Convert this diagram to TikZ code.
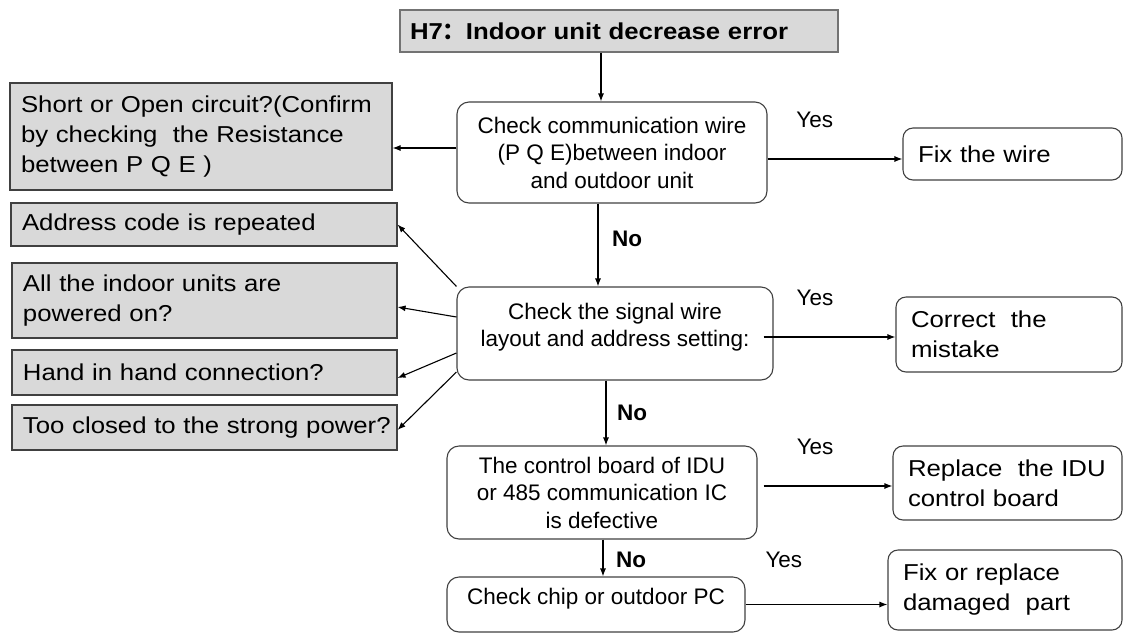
\documentclass[tikz,border=0pt]{standalone}
\usepackage{fontspec}
\setmainfont{Liberation Sans}
\newfontfamily\widefont{Liberation Sans}[FakeStretch=1.12]
\newfontfamily\cjkfont{Noto Sans CJK SC}
\usetikzlibrary{arrows.meta}

\begin{document}
\begin{tikzpicture}
    [x=1pt, y=-1pt,
    >={Latex[length=8pt,width=6pt]},
    line width=1.1pt,
    titlebox/.style={draw=black!55, fill=black!15, inner xsep=10pt, inner ysep=0pt, align=left, font=\widefont\bfseries\fontsize{23}{28}\selectfont},
    graybox/.style={draw=black!75, fill=black!15, inner xsep=11pt, inner ysep=0pt, align=left, font=\widefont\fontsize{23}{30}\selectfont},
    rbox/.style={draw=black!75, rounded corners=12pt, inner sep=0pt, align=center, font=\fontsize{22.5}{27.5}\selectfont},
    endbox/.style={draw=black!75, rounded corners=10pt, inner xsep=15pt, inner ysep=0pt, align=left, font=\widefont\fontsize{23}{30}\selectfont},
    yes/.style={font=\fontsize{22.5}{26}\selectfont},
    no/.style={font=\bfseries\fontsize{22.5}{26}\selectfont}]
    \useasboundingbox (0,0) rectangle (1124,633);

    %% title
    \node[titlebox, text width=418pt, minimum height=42pt] (title) at (619,31) {H7{\cjkfont ：}Indoor unit decrease error};

    %% main column
    \node[rbox, minimum width=310pt, minimum height=101pt] (check) at (612,152.5) {Check communication wire\\(P Q E)between indoor\\and outdoor unit};
    \node[rbox, minimum width=316pt, minimum height=93pt] (signal) at (615,333.5) {Check the signal wire\\layout and address setting:\\[-10pt]\mbox{}};
    \node[rbox, minimum width=310pt, minimum height=93pt] (board) at (602,492.5) {The control board of IDU\\or 485 communication IC\\is defective};
    \node[rbox, minimum width=298pt, minimum height=55pt, text depth=17pt] (chip) at (596,604.5) {Check chip or outdoor PC};

    %% left side
    \node[graybox, text width=360pt, minimum height=107pt] (shortopen) at (201,136.5) {Short or Open circuit?(Confirm\\by checking~ the Resistance\\between P Q E )};
    \node[graybox, text width=364pt, minimum height=43pt] (address) at (204,224.5) {Address code is repeated};
    \node[graybox, text width=363pt, minimum height=75pt] (powered) at (204.5,300.5) {All the indoor units are\\powered on?};
    \node[graybox, text width=363pt, minimum height=45pt] (hand) at (204.5,372.5) {Hand in hand connection?};
    \node[graybox, text width=363pt, minimum height=45pt] (strong) at (204.5,427.5) {\mbox{Too closed to the strong power?}};

    %% right side
    \node[endbox, text width=189pt, minimum height=52pt] (fixwire) at (1012.5,154) {Fix the wire};
    \node[endbox, text width=196pt, minimum height=75pt] (correct) at (1009,334.5) {Correct~ the\\mistake};
    \node[endbox, text width=199pt, minimum height=74pt] (replace) at (1007.5,483) {\mbox{Replace~ the IDU}\\control board};
    \node[endbox, text width=204pt, minimum height=80pt] (fixpart) at (1005,590) {Fix or replace\\damaged~ part};

    \draw[->] ([xshift=-18pt]title.south) -- ([xshift=-11pt]check.north);
    \draw[->] ([yshift=4.5pt]check.west) -- ([yshift=4.5pt]check.west -| shortopen.east);
    \draw[->] ([yshift=-6.5pt]check.east) -- node[yes, pos=.35, yshift=39pt] {Yes} ([yshift=-6.5pt]check.east -| fixwire.west);
    \draw[->] ([xshift=-14pt]check.south) -- node[no, pos=.42, xshift=29pt] {No} ([xshift=-14pt]check.south |- signal.north);

    \draw[->] (signal.north west) -- (address.east);
    \draw[->] ([yshift=16.5pt]signal.west) -- ([yshift=-6.5pt]powered.east);
    \draw[->] ([yshift=-19.5pt]signal.west) -- ([yshift=-5.5pt]hand.east);
    \draw[->] ([yshift=-38.5pt]signal.west) -- ([yshift=-2.5pt]strong.east);
    \draw[->] ([xshift=-10pt,yshift=-3.5pt]signal.east) -- node[yes, pos=.39, yshift=39pt] {Yes} ([yshift=-3.5pt]signal.east -| correct.west);
    \draw[->] ([xshift=-9pt]signal.south) -- node[no, pos=.5, xshift=26pt] {No} ([xshift=-9pt]signal.south |- board.north);

    \draw[->] ([xshift=6pt,yshift=6.5pt]board.east) -- node[yes, pos=.4, yshift=39pt] {Yes} ([yshift=6.5pt]board.east -| replace.west);
    \draw[->] ([xshift=1pt]board.south) -- node[no, pos=.55, xshift=28pt] {No} ([xshift=1pt]board.south |- chip.north);
    \draw[->] (chip.east) -- node[yes, pos=.27, yshift=45pt] {Yes} (chip.east -| fixpart.west);
\end{tikzpicture}
\end{document}
